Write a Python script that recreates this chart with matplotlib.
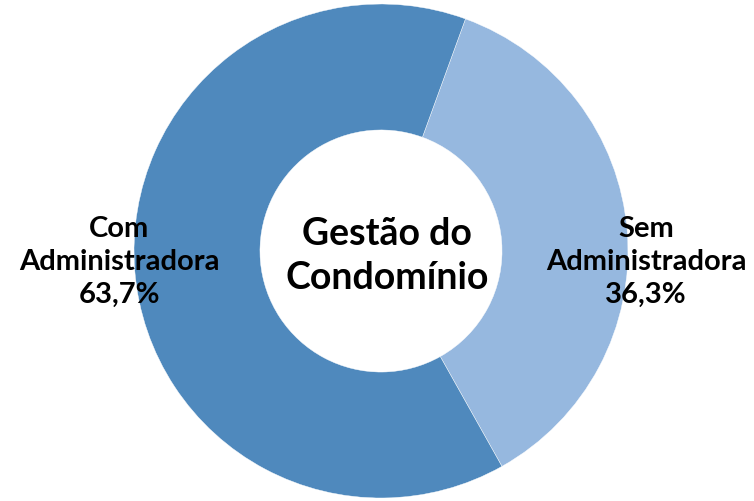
import matplotlib.pyplot as plt

# Gestão do condomínio — share of buildings
labels = ["Sem\nAdministradora", "Com\nAdministradora"]
shares = [36.3, 63.7]
colors = ["#96B8DF", "#4F89BD"]
center_title = "Gestão do\nCondomínio"

W, H = 754, 502
CX, CY, R = 381, 250, 247   # pie centre (px from left / bottom) and radius

fig = plt.figure(figsize=(W / 100, H / 100), dpi=100)
ax = fig.add_axes([0, 0, 1, 1])

wedges, _ = ax.pie(
    shares,
    colors=colors,
    startangle=70,
    counterclock=False,
    radius=1,
    wedgeprops=dict(width=0.51, edgecolor="white", linewidth=0.3),
)

ax.set_xlim(-CX / R, (W - CX) / R)
ax.set_ylim(-CY / R, (H - CY) / R)
ax.axis("off")

font = dict(family="Lato", fontweight="bold", color="black")

# slice labels, placed in pixel coords converted to data units
label_pos = [(646, 240), (119, 240)]
for lab, val, (px, py) in zip(labels, shares, label_pos):
    ax.text((px - CX) / R, (py - CY) / R,
            f"{lab}\n{val:.1f}%".replace(".", ","),
            ha="center", va="center", fontsize=21, linespacing=1.35, **font)

ax.text((387 - CX) / R, (246 - CY) / R, center_title,
        ha="center", va="center", fontsize=27, linespacing=1.35, **font)

plt.savefig("out.png", dpi=100)
plt.close()
